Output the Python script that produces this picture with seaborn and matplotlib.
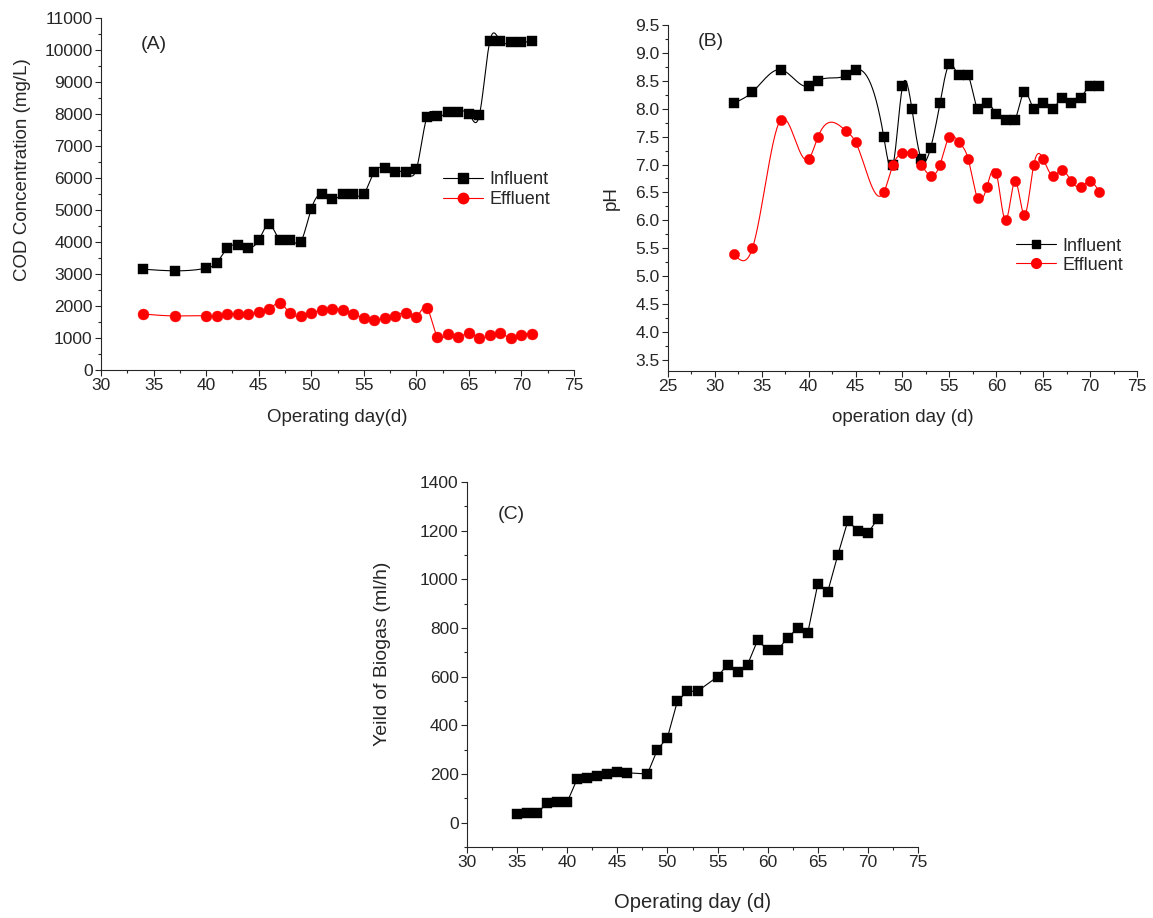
import numpy as np
import pandas as pd
import matplotlib
matplotlib.use('Agg')
import matplotlib.pyplot as plt
import seaborn as sns
from matplotlib.lines import Line2D
from matplotlib.ticker import MultipleLocator, FormatStrFormatter

# (A) COD concentration
cod_inf_days = [34, 37] + list(range(40, 72))
cod_inf = [3150, 3100, 3180, 3350, 3800, 3900, 3820, 4050, 4550, 4070, 4070, 4010,
           5030, 5500, 5330, 5500, 5500, 5500, 6190, 6300, 6190, 6180, 6270,
           7900, 7940, 8050, 8060, 8010, 7970, 10290, 10270, 10250, 10240, 10290]
cod_eff_days = [34, 37] + list(range(40, 72))
cod_eff = [1750, 1690, 1690, 1690, 1760, 1750, 1750, 1800, 1900, 2090, 1770, 1690,
           1770, 1885, 1915, 1875, 1760, 1615, 1560, 1615, 1700, 1770, 1655,
           1940, 1040, 1135, 1040, 1155, 1000, 1095, 1155, 1000, 1105, 1125]

# (B) pH
ph_inf_days = [32, 34, 37, 40, 41, 44, 45, 48, 49] + list(range(50, 72))
ph_inf = [8.1, 8.3, 8.7, 8.4, 8.5, 8.6, 8.7, 7.5, 7.0,
          8.4, 8.0, 7.1, 7.3, 8.1, 8.8, 8.6, 8.6, 8.0, 8.1, 7.9, 7.8, 7.8,
          8.3, 8.0, 8.1, 8.0, 8.2, 8.1, 8.2, 8.4, 8.4]
ph_eff_days = [32, 34, 37, 40, 41, 44, 45, 48, 49] + list(range(50, 72))
ph_eff = [5.4, 5.5, 7.8, 7.1, 7.5, 7.6, 7.4, 6.5, 7.0,
          7.2, 7.2, 7.0, 6.8, 7.0, 7.5, 7.4, 7.1, 6.4, 6.6, 6.85, 6.0, 6.7,
          6.1, 7.0, 7.1, 6.8, 6.9, 6.7, 6.6, 6.7, 6.5]

# (C) biogas
gas_days = [35, 36, 37, 38, 39, 40, 41, 42, 43, 44, 45, 46, 48, 49, 50, 51, 52, 53,
            55, 56, 57, 58, 59, 60, 61, 62, 63, 64, 65, 66, 67, 68, 69, 70, 71]
gas = [35, 40, 40, 80, 85, 85, 180, 185, 190, 200, 210, 205, 200, 300, 350, 500, 540, 540,
       600, 650, 620, 650, 750, 710, 710, 760, 800, 780, 980, 950, 1100, 1240, 1200, 1190, 1250]


def spline(x, y, n=15):
    # natural cubic spline through the points (like Origin's spline connect)
    x = np.asarray(x, float)
    y = np.asarray(y, float)
    h = np.diff(x)
    m = len(x)
    A = np.zeros((m, m))
    b = np.zeros(m)
    A[0, 0] = A[-1, -1] = 1
    for i in range(1, m - 1):
        A[i, i - 1] = h[i - 1]
        A[i, i] = 2 * (h[i - 1] + h[i])
        A[i, i + 1] = h[i]
        b[i] = 6 * ((y[i + 1] - y[i]) / h[i] - (y[i] - y[i - 1]) / h[i - 1])
    M = np.linalg.solve(A, b)
    xs, ys = [], []
    for i in range(m - 1):
        t = np.linspace(x[i], x[i + 1], n, endpoint=False)
        a = x[i + 1] - t
        c = t - x[i]
        s = (M[i] * a ** 3 + M[i + 1] * c ** 3) / (6 * h[i]) \
            + (y[i] / h[i] - M[i] * h[i] / 6) * a + (y[i + 1] / h[i] - M[i + 1] * h[i] / 6) * c
        xs.extend(t)
        ys.extend(s)
    xs.append(x[-1])
    ys.append(y[-1])
    return pd.DataFrame({'x': xs, 'y': ys})


sns.set_style('ticks')
plt.rcParams['font.family'] = ['Liberation Sans', 'DejaVu Sans']
plt.rcParams['axes.linewidth'] = 0.8

W, H = 1153, 918
fig = plt.figure(figsize=(W / 100, H / 100), dpi=100)
axA = fig.add_axes([101 / W, 1 - 370 / H, 473 / W, 352 / H])
axB = fig.add_axes([668 / W, 1 - 371 / H, 469 / W, 346 / H])
axC = fig.add_axes([467 / W, 1 - 847 / H, 451 / W, 365 / H])

red = '#ff0000'

# Panel A
sns.lineplot(data=spline(cod_inf_days, cod_inf), x='x', y='y', ax=axA, color='black', lw=0.8)
sns.lineplot(data=spline(cod_eff_days, cod_eff), x='x', y='y', ax=axA, color=red, lw=0.8)
sns.scatterplot(x=cod_inf_days, y=cod_inf, ax=axA, marker='s', s=50, color='black', edgecolor='black', linewidth=0.3, zorder=3)
sns.scatterplot(x=cod_eff_days, y=cod_eff, ax=axA, marker='o', s=62, color=red, edgecolor=red, linewidth=0.3, zorder=3)
axA.set_xlim(30, 75)
axA.set_ylim(0, 11000)
axA.yaxis.set_major_locator(MultipleLocator(1000))
axA.yaxis.set_minor_locator(MultipleLocator(500))
axA.set_xlabel('Operating day(d)', fontsize=13.5)
axA.set_ylabel('COD Concentration (mg/L)', fontsize=13.5)
axA.xaxis.set_label_coords(0.5, -0.11)
axA.yaxis.set_label_coords(-0.148, 0.57)
axA.text(0.112, 0.926, '(A)', transform=axA.transAxes, ha='center', va='center', fontsize=14)
handlesA = [Line2D([], [], color='black', lw=0.8, marker='s', markersize=6.5),
            Line2D([], [], color=red, lw=0.8, marker='o', markersize=7.5)]
axA.legend(handlesA, ['Influent', 'Effluent'], loc='upper left', bbox_to_anchor=(0.723, 0.565),
           frameon=False, fontsize=13, handlelength=2.2, handletextpad=0.35,
           labelspacing=0.15, borderpad=0, borderaxespad=0)

# Panel B
sns.lineplot(data=spline(ph_inf_days, ph_inf), x='x', y='y', ax=axB, color='black', lw=0.8)
sns.lineplot(data=spline(ph_eff_days, ph_eff), x='x', y='y', ax=axB, color=red, lw=0.8)
sns.scatterplot(x=ph_inf_days, y=ph_inf, ax=axB, marker='s', s=42, color='black', edgecolor='black', linewidth=0.3, zorder=3)
sns.scatterplot(x=ph_eff_days, y=ph_eff, ax=axB, marker='o', s=55, color=red, edgecolor=red, linewidth=0.3, zorder=4)
axB.set_xlim(25, 75)
axB.set_ylim(3.3, 9.5)
axB.yaxis.set_major_locator(MultipleLocator(0.5))
axB.yaxis.set_minor_locator(MultipleLocator(0.25))
axB.yaxis.set_major_formatter(FormatStrFormatter('%.1f'))
axB.set_xlabel('operation day (d)', fontsize=13.5)
axB.set_ylabel('pH', fontsize=13.5)
axB.xaxis.set_label_coords(0.5, -0.11)
axB.yaxis.set_label_coords(-0.102, 0.5)
axB.text(0.092, 0.951, '(B)', transform=axB.transAxes, ha='center', va='center', fontsize=14)
handlesB = [Line2D([], [], color='black', lw=0.8, marker='s', markersize=6),
            Line2D([], [], color=red, lw=0.8, marker='o', markersize=7)]
axB.legend(handlesB, ['Influent', 'Effluent'], loc='upper left', bbox_to_anchor=(0.742, 0.385),
           frameon=False, fontsize=13, handlelength=2.2, handletextpad=0.35,
           labelspacing=0.1, borderpad=0, borderaxespad=0)

# Panel C
sns.lineplot(x=gas_days, y=gas, ax=axC, color='black', lw=0.8, marker='s', markersize=6.5,
             markeredgecolor='black', markeredgewidth=0.3)
axC.set_xlim(30, 75)
axC.set_ylim(-100, 1400)
axC.yaxis.set_major_locator(MultipleLocator(200))
axC.yaxis.set_minor_locator(MultipleLocator(100))
axC.set_xlabel('Operating day (d)', fontsize=14.5)
axC.set_ylabel('Yeild of Biogas (ml/h)', fontsize=14)
axC.xaxis.set_label_coords(0.5, -0.125)
axC.yaxis.set_label_coords(-0.168, 0.53)
axC.text(0.098, 0.912, '(C)', transform=axC.transAxes, ha='center', va='center', fontsize=14)

for ax in (axA, axB, axC):
    ax.xaxis.set_major_locator(MultipleLocator(5))
    ax.xaxis.set_minor_locator(MultipleLocator(2.5))
    ax.tick_params(which='major', direction='out', length=4, width=0.8, labelsize=12.5, pad=2)
    ax.tick_params(which='minor', direction='out', length=2.5, width=0.8)
    sns.despine(ax=ax)

fig.savefig('out.png', dpi=100)
